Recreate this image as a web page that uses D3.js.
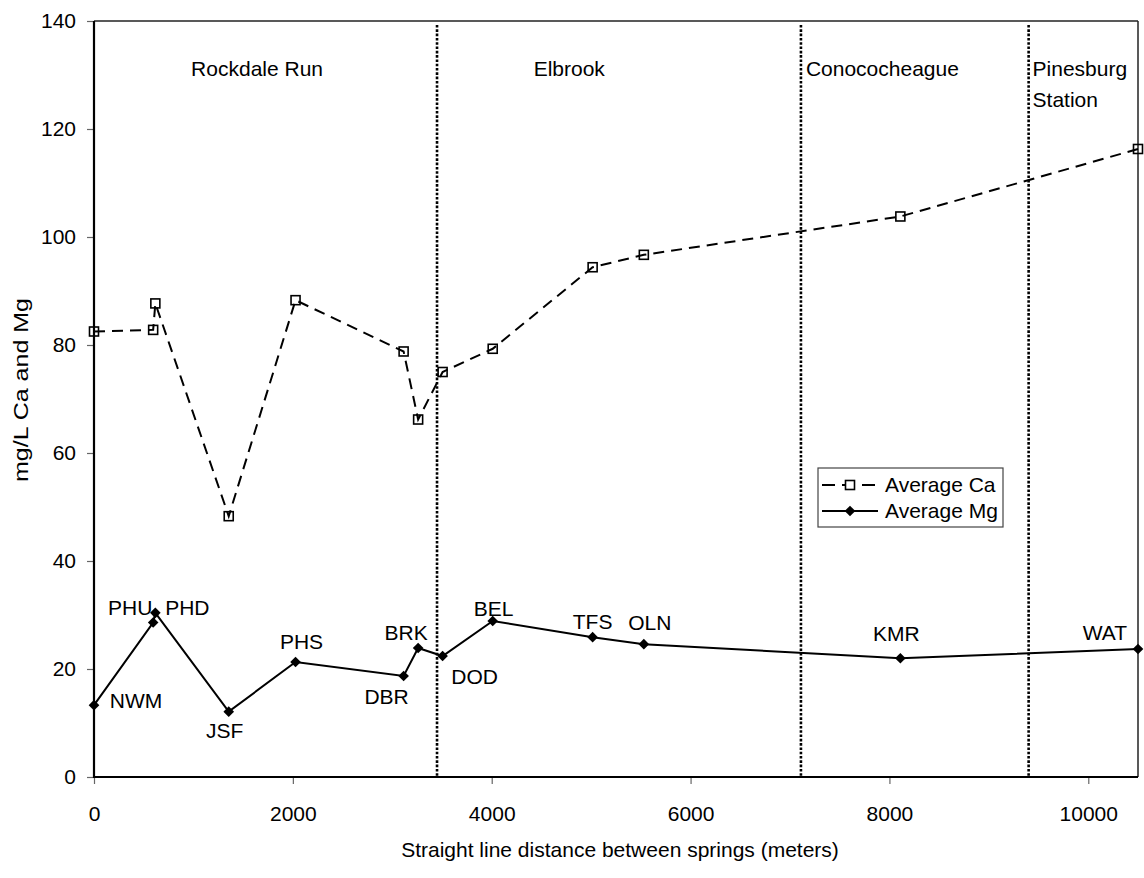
<!DOCTYPE html>
<html>
<head>
<meta charset="utf-8">
<script src="https://cdn.jsdelivr.net/npm/d3@7"></script>
<style>
  html, body { margin: 0; padding: 0; background: #fff; }
  svg { display: block; font-family: "Liberation Sans", Arial, sans-serif; }
</style>
</head>
<body>
<svg id="chart" width="1144" height="878"></svg>
<script>
// Spring sites ordered by straight-line distance (m)
const sites    = ["NWM", "PHU", "PHD", "JSF", "PHS", "DBR", "BRK", "DOD", "BEL", "TFS", "OLN", "KMR", "WAT"];
const distance = [0, 595, 617, 1355, 2027, 3114, 3260, 3506, 4010, 5015, 5530, 8110, 10500];
const caAvg    = [82.5, 82.8, 87.7, 48.3, 88.3, 78.8, 66.2, 75.0, 79.3, 94.4, 96.7, 103.8, 116.3];
const mgAvg    = [13.3, 28.6, 30.4, 12.1, 21.3, 18.7, 23.9, 22.4, 28.9, 25.9, 24.6, 22.0, 23.7];

// Formation contacts (m) and formation names
const contacts   = [3450, 7110, 9400];
const formations = ["Rockdale Run", "Elbrook", "Conococheague", "Pinesburg\nStation"];

const xTicks = [0, 2000, 4000, 6000, 8000, 10000];
const yTicks = [0, 20, 40, 60, 80, 100, 120, 140];

// Site label placement around the Mg markers (pixels)
const siteLabelOffset = [
  [42, -5], [-23, -15], [32, -5], [-4, 19], [6, -20], [-17, 21], [-12, -15],
  [32, 21], [1, -12], [0, -15], [6, -22], [-4, -25], [-33, -16]
];

const svg = d3.select("#chart");
const m = { left: 94, right: 1138, top: 21, bottom: 777 };
const FS = 21;

const x = d3.scaleLinear().domain([0, 10500]).range([m.left, m.right]);
const y = d3.scaleLinear().domain([0, 140]).range([m.bottom, m.top]);

// Formation contacts: dotted verticals
svg.append("g").selectAll("line").data(contacts).join("line")
  .attr("x1", d => x(d)).attr("x2", d => x(d))
  .attr("y1", m.top + 4).attr("y2", m.bottom)
  .attr("stroke", "#000").attr("stroke-width", 2.6)
  .attr("stroke-dasharray", "2.6,1.7");

// Formation names
const zoneLabels = [
  { x: 1640, anchor: "middle" },
  { x: 4780, anchor: "middle" },
  { x: contacts[1] + 50, anchor: "start" },
  { x: contacts[2] + 40, anchor: "start" }
];
formations.forEach((name, i) => {
  const t = svg.append("text")
    .attr("x", x(zoneLabels[i].x))
    .attr("y", 69)
    .attr("text-anchor", zoneLabels[i].anchor)
    .attr("font-size", FS);
  name.split("\n").forEach((line, j) => {
    t.append("tspan").attr("x", x(zoneLabels[i].x)).attr("dy", j === 0 ? "0.35em" : "1.45em").text(line);
  });
});

// Axes
const xAxis = svg.append("g").attr("transform", `translate(0,${m.bottom})`)
  .call(d3.axisBottom(x).tickValues(xTicks).tickFormat(d3.format("d")).tickSize(7).tickPadding(22));
const yAxis = svg.append("g").attr("transform", `translate(${m.left},0)`)
  .call(d3.axisLeft(y).tickValues(yTicks).tickSize(7).tickPadding(11));
[xAxis, yAxis].forEach(g => {
  g.select(".domain").remove();
  g.selectAll(".tick line").attr("stroke", "#666").attr("stroke-width", 1.2);
  g.selectAll(".tick text").attr("font-size", FS).attr("fill", "#000")
    .attr("font-family", "Liberation Sans, Arial, sans-serif");
});

// Plot frame
svg.append("line").attr("x1", m.left).attr("x2", m.right).attr("y1", m.top).attr("y2", m.top)
  .attr("stroke", "#222").attr("stroke-width", 1.5);
svg.append("line").attr("x1", m.right).attr("x2", m.right).attr("y1", m.top).attr("y2", m.bottom)
  .attr("stroke", "#222").attr("stroke-width", 1.5);
svg.append("line").attr("x1", m.left).attr("x2", m.left).attr("y1", m.top).attr("y2", m.bottom + 1)
  .attr("stroke", "#000").attr("stroke-width", 2.2);
svg.append("line").attr("x1", m.left - 1).attr("x2", m.right).attr("y1", m.bottom).attr("y2", m.bottom)
  .attr("stroke", "#000").attr("stroke-width", 2.2);

// Axis titles
svg.append("text").attr("x", (m.left + m.right) / 2 + 4).attr("y", 850).attr("dy", "0.35em")
  .attr("text-anchor", "middle").attr("font-size", FS)
  .text("Straight line distance between springs (meters)");
svg.append("text").attr("transform", "translate(21,390) rotate(-90)").attr("dy", "0.35em")
  .attr("text-anchor", "middle").attr("font-size", 20)
  .attr("textLength", 184).attr("lengthAdjust", "spacingAndGlyphs")
  .text("mg/L Ca and Mg");

const idx = d3.range(sites.length);

// Average Ca: dashed line, open squares
const caLine = d3.line().x(i => x(distance[i])).y(i => y(caAvg[i]));
svg.append("path").attr("d", caLine(idx))
  .attr("fill", "none").attr("stroke", "#000").attr("stroke-width", 2)
  .attr("stroke-dasharray", "11,7");
svg.append("g").selectAll("rect").data(idx).join("rect")
  .attr("x", i => x(distance[i]) - 4.5).attr("y", i => y(caAvg[i]) - 4.5)
  .attr("width", 9).attr("height", 9)
  .attr("fill", "none").attr("stroke", "#000").attr("stroke-width", 1.6);

// Average Mg: solid line, filled diamonds
const mgLine = d3.line().x(i => x(distance[i])).y(i => y(mgAvg[i]));
svg.append("path").attr("d", mgLine(idx))
  .attr("fill", "none").attr("stroke", "#000").attr("stroke-width", 2);
const diamond = d3.symbol().type(d3.symbolDiamond2).size(72);
svg.append("g").selectAll("path").data(idx).join("path")
  .attr("d", diamond)
  .attr("transform", i => `translate(${x(distance[i])},${y(mgAvg[i])})`)
  .attr("fill", "#000");

// Site names
svg.append("g").selectAll("text").data(idx).join("text")
  .attr("x", i => x(distance[i]) + siteLabelOffset[i][0])
  .attr("y", i => y(mgAvg[i]) + siteLabelOffset[i][1])
  .attr("dy", "0.35em").attr("text-anchor", "middle").attr("font-size", FS)
  .text(i => sites[i]);

// Legend
const lg = svg.append("g").attr("transform", "translate(818,468)");
lg.append("rect").attr("width", 185).attr("height", 59)
  .attr("fill", "#fff").attr("stroke", "#444").attr("stroke-width", 1.2);
lg.append("line").attr("x1", 4).attr("x2", 60).attr("y1", 17).attr("y2", 17)
  .attr("stroke", "#000").attr("stroke-width", 2).attr("stroke-dasharray", "13,7");
lg.append("rect").attr("x", 32 - 4.5).attr("y", 17 - 4.5).attr("width", 9).attr("height", 9)
  .attr("fill", "#fff").attr("stroke", "#000").attr("stroke-width", 1.6);
lg.append("line").attr("x1", 4).attr("x2", 60).attr("y1", 43).attr("y2", 43)
  .attr("stroke", "#000").attr("stroke-width", 2);
lg.append("path").attr("d", diamond).attr("transform", "translate(32,43)").attr("fill", "#000");
lg.append("text").attr("x", 67).attr("y", 17).attr("dy", "0.35em").attr("font-size", FS).text("Average Ca");
lg.append("text").attr("x", 67).attr("y", 43).attr("dy", "0.35em").attr("font-size", FS).text("Average Mg");
</script>
</body>
</html>
